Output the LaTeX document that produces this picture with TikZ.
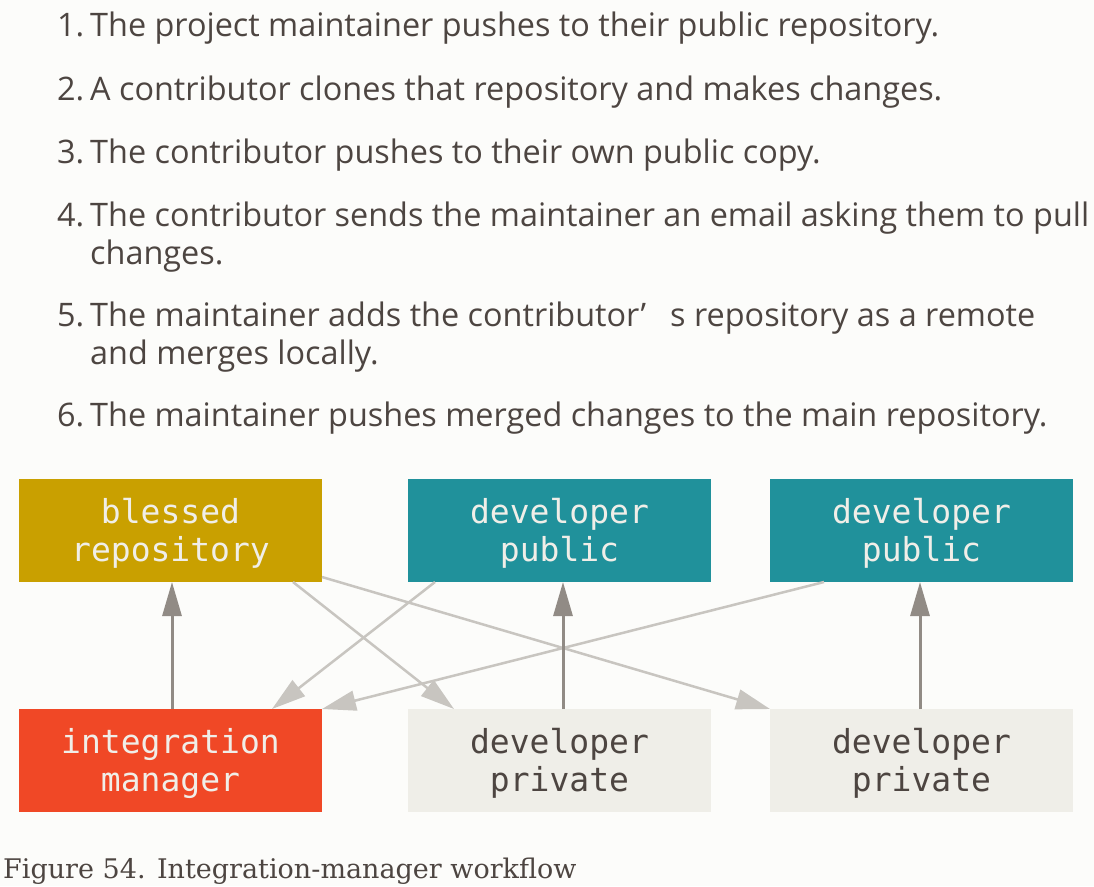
\documentclass[tikz,border=0pt]{standalone}
\usepackage{fontspec}
\setmainfont{Open Sans}
\newfontfamily\boxfont{DejaVu Sans Mono}
\newfontfamily\capfont{DejaVu Serif}
\usetikzlibrary{arrows.meta}
\definecolor{bgc}{RGB}{252,252,250}
\definecolor{txtc}{RGB}{77,69,65}
\definecolor{blessedc}{RGB}{201,160,0}
\definecolor{tealc}{RGB}{32,145,155}
\definecolor{imc}{RGB}{240,72,38}
\definecolor{privc}{RGB}{239,238,232}
\definecolor{boxtxt}{RGB}{240,238,232}
\definecolor{darkarr}{RGB}{145,139,133}
\definecolor{lightarr}{RGB}{200,197,192}
\newcommand{\twolines}[2]{\raisebox{-4pt}[\height][\depth]{\begin{tabular}{@{}c@{}}#1\\#2\end{tabular}}}
\tikzset{
  repo/.style={minimum width=303pt, minimum height=103pt, inner sep=0pt, outer sep=0pt,
    align=center, font=\boxfont\fontsize{33}{38}\selectfont},
  coloured/.style={repo, fill=#1, text=boxtxt},
  privbox/.style={repo, fill=privc, text=txtc},
  listtxt/.style={anchor=base west, inner sep=0pt, text=txtc, font=\fontsize{32.4}{38}\selectfont},
  darkline/.style={draw=darkarr, line width=3pt, -{Triangle[length=34pt,width=19pt]}},
  lightline/.style={draw=lightarr, line width=2.5pt, -{Triangle[length=34pt,width=20pt]}},
}
\begin{document}
\begin{tikzpicture}[x=1pt,y=-1pt]
\fill[bgc] (0,0) rectangle (1094,886);
\useasboundingbox (0,0) rectangle (1094,886);
% list
\node[listtxt] (n1) at (57,36) {1.};
\node[listtxt] (t1) at (90,36) {The project maintainer pushes to their public repository.};
\node[listtxt] (n2) at (57,100) {2.};
\node[listtxt] (t2) at (90,100) {A contributor clones that repository and makes changes.};
\node[listtxt] (n3) at (57,163) {3.};
\node[listtxt] (t3) at (90,163) {The contributor pushes to their own public copy.};
\node[listtxt] (n4) at (57,226) {4.};
\node[listtxt] (t4) at (90,226) {The contributor sends the maintainer an email asking them to pull};
\node[listtxt] (t4b) at (90,264) {changes.};
\node[listtxt] (n5) at (57,326) {5.};
\node[listtxt] (t5) at (90,326) {The maintainer adds the contributor’\hspace{24pt}s repository as a remote};
\node[listtxt] (t5b) at (90,364) {and merges locally.};
\node[listtxt] (n6) at (57,426) {6.};
\node[listtxt] (t6) at (90,426) {The maintainer pushes merged changes to the main repository.};
% boxes
\node[coloured=blessedc] (bl) at (170.5,530.5) {\twolines{blessed}{repository}};
\node[coloured=tealc] (pub1) at (559.5,530.5) {\twolines{developer}{public}};
\node[coloured=tealc] (pub2) at (921.5,530.5) {\twolines{developer}{public}};
\node[coloured=imc] (im) at (170.5,760.5) {\twolines{integration}{manager}};
\node[privbox] (priv1) at (559.5,760.5) {\twolines{developer}{private}};
\node[privbox] (priv2) at (921.5,760.5) {\twolines{developer}{private}};
% light connectors
\draw[lightline] ([xshift=-29pt]bl.south east) -- ([xshift=46pt]priv1.north west);
\draw[lightline] ([yshift=5pt]bl.south east) -- (priv2.north west);
\draw[lightline] ([xshift=27pt]pub1.south west) -- ([xshift=-50pt]im.north east);
\draw[lightline] ([xshift=54pt]pub2.south west) -- (im.north east);
% dark connectors
\draw[darkline] ([xshift=1.5pt]im.north) -- ([xshift=1.5pt]bl.south);
\draw[darkline] ([xshift=3.5pt]priv1.north) -- ([xshift=3.5pt]pub1.south);
\draw[darkline] ([xshift=-1.5pt]priv2.north) -- ([xshift=-1.5pt]pub2.south);
% caption
\node[anchor=base west, inner sep=0pt, text=txtc, font=\capfont\fontsize{27}{32}\selectfont] (cap) at (3,878) {Figure 54. Integration-manager workflow};
\end{tikzpicture}
\end{document}
